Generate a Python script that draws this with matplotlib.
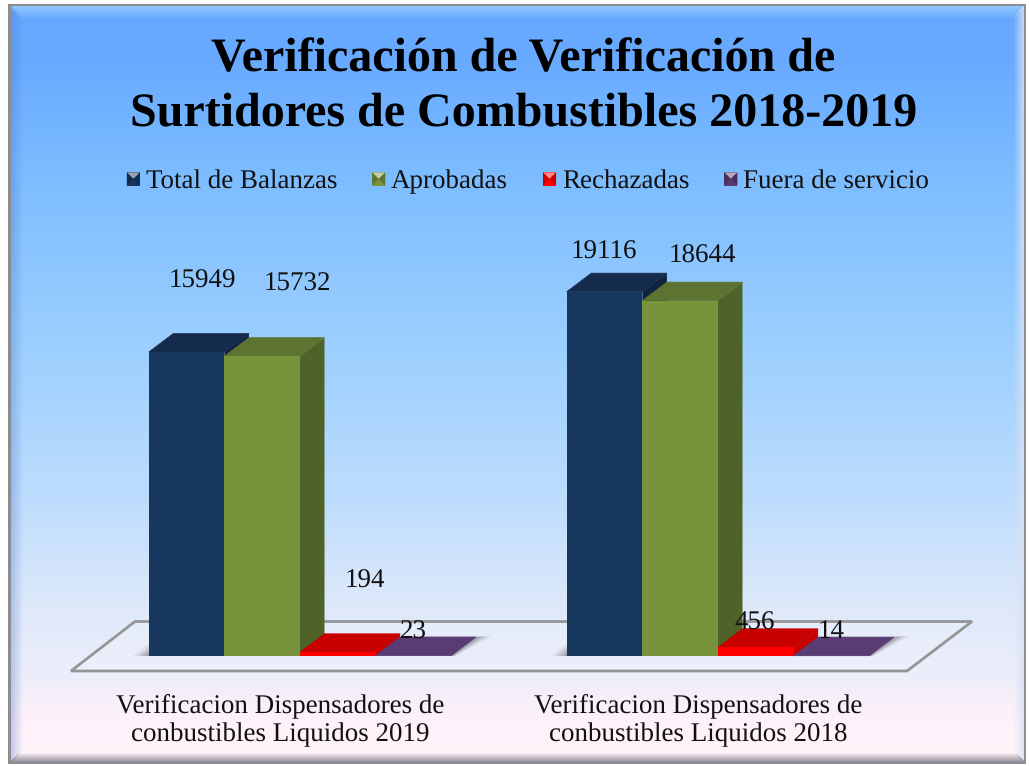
import numpy as np
import matplotlib
matplotlib.use("Agg")
import matplotlib.pyplot as plt
from matplotlib.patches import Polygon, Patch
from matplotlib.legend_handler import HandlerBase
from matplotlib.colors import to_rgb

# ---- data ----
categories = ["Verificacion Dispensadores de\nconbustibles Liquidos 2019",
              "Verificacion Dispensadores de\nconbustibles Liquidos 2018"]
series_names = ["Total de Balanzas", "Aprobadas", "Rechazadas", "Fuera de servicio"]
total_balanzas = [15949, 19116]
aprobadas = [15732, 18644]
rechazadas = [194, 456]
fuera_servicio = [23, 14]
title_text = "Verificación de Verificación de\nSurtidores de Combustibles 2018-2019"

# ---- style ----
W, H = 1029, 766
front = ["#17375E", "#77933C", "#FF0000", "#5A3C75"]
top = ["#142B4D", "#5C7331", "#C80000", "#5A3C75"]
side = ["#10243F", "#4F6228", "#C80000", "#5A3C75"]
PX_X = 418.0            # pixels per category
PX_Y = 0.01906          # pixels per unit
BASE = 656              # baseline row
BAR_W = 75.6 / PX_X
DX, DY = 24.5 / PX_X, 18.5 / PX_Y
LABEL_SHIFT = -20 / PX_X
# label offsets in pixels relative to bar top-centre
off = {0: [(16, 71), (-1, 39)], 1: [(35, 72), (22.5, 44.6)],
       2: [(27, 71), (-1, 24)], 3: [(0, 23.5), (0, 24)]}

plt.rcParams["font.family"] = ["Liberation Serif", "DejaVu Serif"]
plt.rcParams["text.hinting"] = "no_hinting"
plt.rcParams["text.hinting_factor"] = 1
fig = plt.figure(figsize=(W / 100, H / 100), dpi=100, facecolor="white")

# ---- background panel with bevel ----
bg = fig.add_axes([0, 0, 1, 1], zorder=0)
stops_y = [0, 60, 180, 350, 500, 600, 680, 720, 766]
stops_c = ["#66A8FF", "#68AAFF", "#7DBDFF", "#9DD0FF", "#BEDDFD", "#DCE8FA", "#EEEEFA", "#FFF1F9", "#FFF6FC"]
rgb = np.array([to_rgb(c) for c in stops_c])
yy = np.arange(H)
img = np.ones((H, W, 3))
grad = np.stack([np.interp(yy, stops_y, rgb[:, i]) for i in range(3)], axis=1)
img[:] = grad[:, None, :]
L, R, T, B = 8, 1026, 4, 764


def blend(mask, col, a):
    img[mask] = img[mask] * (1 - a) + np.array(col) * a


X, Y = np.meshgrid(np.arange(W), np.arange(H))
for i, a in zip(range(14), np.linspace(0.45, 0.0, 14)):
    blend((Y == T + 2 + i) & (X > L + i) & (X < R - i), (0.75, 0.92, 1.0), a)
for i, a in zip(range(14), np.linspace(0.35, 0.0, 14)):
    blend((X == L + 2 + i) & (Y > T + i) & (Y < B - i), (0.30, 0.45, 0.75), a)
for i, a in zip(range(12), np.linspace(0.9, 0.0, 12)):
    blend((X == R - 2 - i) & (Y > T + i) & (Y < B - i), (0.85, 0.88, 0.95), a)
for i, a in zip(range(11), np.linspace(0.85, 0.0, 11)):
    blend((Y == B - 2 - i) & (X > L + i) & (X < R - i), (0.50, 0.46, 0.50), a)
blend((X < L) | (X >= R) | (Y < T) | (Y >= B), (1, 1, 1), 1.0)
edge = ((X >= L) & (X < L + 3) | (X >= R - 2) & (X < R) | (Y >= T) & (Y < T + 2) | (Y >= B - 2) & (Y < B))
edge &= (X >= L) & (X < R) & (Y >= T) & (Y < B)
blend(edge, (0.55, 0.55, 0.58), 1.0)
bg.imshow(img, extent=(0, W, H, 0), aspect="auto", interpolation="nearest")
bg.axis("off")

# ---- main axes: bottom edge is the zero baseline ----
ax = fig.add_axes([0, (H - BASE) / H, 1, BASE / H], zorder=1)
ax.patch.set_alpha(0)
ax.set_xlim(-300 / PX_X, (W - 300) / PX_X)
ax.set_ylim(0, BASE / PX_Y)
for s in ax.spines.values():
    s.set_visible(False)
ax.yaxis.set_visible(False)
x_pos = np.arange(len(categories))
ax.set_xticks(x_pos + LABEL_SHIFT, categories, fontsize=19.2, linespacing=1.26, color="#111111")
ax.tick_params(axis="x", length=0, pad=26.5)

# floor
f_front_l, f_front_r = (-229 / PX_X, -15 / PX_Y), (607 / PX_X, -15 / PX_Y)
f_back_r, f_back_l = (672 / PX_X, 34.5 / PX_Y), (-165 / PX_X, 34.5 / PX_Y)
ax.add_patch(Polygon([f_front_l, f_front_r, f_back_r, f_back_l], closed=True, fc=(1, 1, 1, 0.12),
                     ec="#959595", lw=2.0, clip_on=False, zorder=1, joinstyle="miter"))

# soft shadows beneath each group
for c in x_pos:
    left = c - 2 * BAR_W
    right = c + 2 * BAR_W
    for grow, a in zip([16, 12, 9, 6, 3], [0.08, 0.10, 0.12, 0.15, 0.18]):
        g = grow / PX_X
        h = grow * 0.1 / PX_Y
        ax.add_patch(Polygon([(left - g, 0), (right + g * 0.3, 0), (right + DX + g, DY + h),
                              (left + DX - g, DY + h)], closed=True, fc="#505058", ec="none",
                             alpha=a, clip_on=False, zorder=1.5))

# bars
all_series = [total_balanzas, aprobadas, rechazadas, fuera_servicio]
offsets = (np.arange(4) - 1.5) * BAR_W
z = 2
for j, (vals, name) in enumerate(zip(all_series, series_names)):
    xs = x_pos + offsets[j]
    bars = ax.bar(xs, vals, BAR_W, color=front[j], zorder=z + 0.2, label=name, clip_on=False, lw=0)
    for b in bars:
        x0, x1, v = b.get_x(), b.get_x() + b.get_width(), b.get_height()
        ax.add_patch(Polygon([(x1, 0), (x1 + DX, DY), (x1 + DX, v + DY), (x1, v)], closed=True,
                             fc=side[j], ec="none", zorder=z, clip_on=False))
        ax.add_patch(Polygon([(x0, v), (x1, v), (x1 + DX, v + DY), (x0 + DX, v + DY)], closed=True,
                             fc=top[j], ec=top[j], lw=0.5, joinstyle="round", zorder=z + 0.1, clip_on=False))
    z += 1
    for i, (b, v) in enumerate(zip(bars, vals)):
        ax.annotate(str(v), xy=(b.get_x() + b.get_width() / 2, v), xytext=off[j][i],
                    textcoords="offset pixels", ha="center", va="center", fontsize=19.5,
                    color="#111111", zorder=10, annotation_clip=False)


# ---- legend with bevelled keys ----
class BevelHandler(HandlerBase):
    def create_artists(self, legend, orig, xd, yd, w, h, fs, trans):
        c = orig.get_facecolor()
        s = min(w, h)
        x0, y0 = -xd, -yd + (h - s) / 2
        base = np.array(c[:3])
        tri_top = tuple(base * 0.45 + 0.55)
        tri_dark = tuple(base * 0.8)
        m = (x0 + s / 2, y0 + s / 2)
        bl, br, tr, tl = (x0, y0), (x0 + s, y0), (x0 + s, y0 + s), (x0, y0 + s)
        arts = [Polygon([bl, br, tr, tl], closed=True, fc=c, ec="none"),
                Polygon([tl, tr, m], closed=True, fc=tri_top, ec="none"),
                Polygon([bl, m, tl], closed=True, fc=tri_dark, ec="none"),
                Polygon([br, tr, m], closed=True, fc=tri_dark, ec="none")]
        for a in arts:
            a.set_transform(trans)
        return arts


handles = [Patch(facecolor=front[k], label=series_names[k]) for k in range(4)]
fig.legend(handles=handles, loc="center", bbox_to_anchor=(528 / W, 1 - 182 / H), ncol=4, frameon=False,
           fontsize=19.3, handler_map={Patch: BevelHandler()}, handlelength=0.49, handleheight=0.49,
           handletextpad=0.22, columnspacing=1.30, borderpad=0, labelcolor="#111111")

# ---- title ----
fig.text(523.5 / W, 1 - 87 / H, title_text, ha="center", va="center", fontsize=34.6, fontweight="bold",
         color="black", linespacing=1.31)

fig.savefig("out.png", dpi=100)
